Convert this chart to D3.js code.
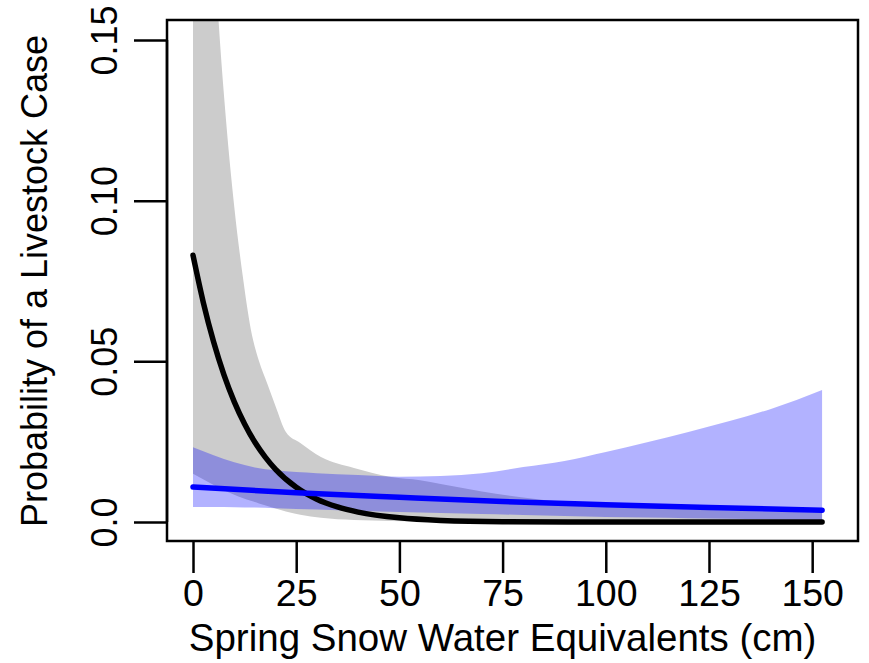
<!DOCTYPE html>
<html>
<head>
<meta charset="utf-8">
<script src="https://cdn.jsdelivr.net/npm/d3@7"></script>
<style>
  body { margin: 0; background: #fff; }
  svg text { font-family: "Liberation Sans", Arial, sans-serif; fill: #000; }
</style>
</head>
<body>
<div id="container"></div>
<script>
// livestock case model (black) with its 95% band
var blackX = [0, 2.5, 5, 7.5, 10, 12.5, 15, 17.5, 20, 25, 30, 35, 40, 50, 60, 75, 100, 125, 152.4];
var blackP = [0.083, 0.0683, 0.056, 0.0458, 0.0374, 0.0305, 0.0248, 0.0202, 0.0164, 0.0108, 0.0071, 0.0047, 0.0031, 0.0013, 0.0005, 0.0001, 0, 0, 0];

var greyX  = [0, 2, 4, 6, 8, 10, 12, 14, 16, 18, 20, 22.5, 26, 31, 39, 48, 55, 60, 70, 80, 90, 100, 110, 120, 130, 140, 152.4];
var greyHi = [0.32, 0.26, 0.21, 0.16, 0.125, 0.098, 0.077, 0.06, 0.05, 0.043, 0.036, 0.028, 0.0246, 0.0202, 0.0168, 0.014, 0.013, 0.0118, 0.0095, 0.0076, 0.0062, 0.0052, 0.0045, 0.004, 0.0036, 0.0033, 0.003];
var greyLo = [0.015, 0.0136, 0.0122, 0.0108, 0.0096, 0.0085, 0.0075, 0.0066, 0.0058, 0.005, 0.0042, 0.0033, 0.0023, 0.0013, 0.0006, 0.0003, 0.0002, 0.0001, 0, 0, 0, 0, 0, 0, 0, 0, 0];

// second model (blue) with its band
var blueX  = [0, 5, 10, 15, 20, 30, 40, 50, 60, 70, 80, 90, 100, 110, 120, 130, 140, 152.4];
var blueHi = [0.0233, 0.0208, 0.0186, 0.017, 0.0161, 0.0152, 0.0146, 0.0141, 0.0143, 0.0152, 0.0171, 0.019, 0.0218, 0.0248, 0.028, 0.0314, 0.0352, 0.0411];
var blueLo = [0.0047, 0.0047, 0.0046, 0.0045, 0.0043, 0.0039, 0.0035, 0.0031, 0.0028, 0.0025, 0.0022, 0.0019, 0.0016, 0.0014, 0.0012, 0.001, 0.0008, 0.0006];

var blueLineX = [0, 25, 50, 75, 100, 125, 152.4];
var blueLineP = [0.0109, 0.0091, 0.0077, 0.0064, 0.0054, 0.0045, 0.0037];

var xTicks = [0, 25, 50, 75, 100, 125, 150];
var yTicks = [0, 0.05, 0.1, 0.15];
var yTickLabels = ["0.0", "0.05", "0.10", "0.15"];

var width = 869,
    height = 663;
var margin = {top: 20, right: 11, bottom: 122, left: 167};

var svg = d3.select('#container').append('svg')
    .attr("width", width)
    .attr("height", height);

var x = d3.scaleLinear()
    .domain([-6.3, 161.1])
    .range([margin.left, width - margin.right]);
var y = d3.scaleLinear()
    .domain([-0.0059, 0.1562])
    .range([height - margin.bottom, margin.top]);

svg.append('clipPath').attr('id', 'plotclip')
  .append('rect')
    .attr('x', margin.left)
    .attr('y', margin.top)
    .attr('width', width - margin.left - margin.right)
    .attr('height', height - margin.top - margin.bottom);

var plot = svg.append('g').attr('clip-path', 'url(#plotclip)');

function band(xs, lo, hi) {
  return xs.map(function(v, i) { return {x: v, lo: lo[i], hi: hi[i]}; });
}
function pts(xs, ys) {
  return xs.map(function(v, i) { return {x: v, y: ys[i]}; });
}

var area = d3.area()
    .x(function(d) { return x(d.x); })
    .y0(function(d) { return y(d.lo); })
    .y1(function(d) { return y(d.hi); })
    .curve(d3.curveMonotoneX);

var line = d3.line()
    .x(function(d) { return x(d.x); })
    .y(function(d) { return y(d.y); })
    .curve(d3.curveMonotoneX);

plot.append('path')
    .datum(band(greyX, greyLo, greyHi))
    .attr('d', area)
    .attr('fill', '#cccccc');

plot.append('path')
    .datum(band(blueX, blueLo, blueHi))
    .attr('d', area)
    .attr('fill', 'rgba(0,0,255,0.3)');

plot.append('path')
    .datum(pts(blackX, blackP))
    .attr('d', line)
    .attr('fill', 'none')
    .attr('stroke', '#000')
    .attr('stroke-width', 5.5)
    .attr('stroke-linecap', 'round');

plot.append('path')
    .datum(pts(blueLineX, blueLineP))
    .attr('d', line)
    .attr('fill', 'none')
    .attr('stroke', '#0000ff')
    .attr('stroke-width', 5.5)
    .attr('stroke-linecap', 'round');

// axes, R style: ticks outside, line only between first and last tick
var xAxis = svg.append('g')
    .attr('transform', 'translate(0,' + (height - margin.bottom) + ')')
    .call(d3.axisBottom(x).tickValues(xTicks).tickSize(32).tickSizeOuter(0).tickPadding(6));
xAxis.select('.domain').remove();
xAxis.selectAll('line').attr('stroke', '#000').attr('stroke-width', 2.5);
xAxis.selectAll('text')
    .attr('font-size', 37.5)
    .attr('fill', '#000')
    .attr('dy', '0.71em');

var yAxis = svg.append('g')
    .attr('transform', 'translate(' + margin.left + ',0)')
    .call(d3.axisLeft(y).tickValues(yTicks).tickSize(33).tickSizeOuter(0)
      .tickFormat(function(d, i) { return yTickLabels[i]; }));
yAxis.select('.domain').remove();
yAxis.selectAll('line').attr('stroke', '#000').attr('stroke-width', 2.5);
yAxis.selectAll('text')
    .attr('font-size', 36)
    .attr('fill', '#000')
    .attr('text-anchor', 'middle')
    .attr('x', null)
    .attr('dy', null)
    .attr('transform', 'translate(-63,0) rotate(-90)')
    .attr('y', 13);

svg.append('line')
    .attr('x1', margin.left).attr('x2', margin.left)
    .attr('y1', y(0)).attr('y2', y(0.15))
    .attr('stroke', '#000').attr('stroke-width', 2.5);

// plot box
svg.append('rect')
    .attr('x', margin.left)
    .attr('y', margin.top)
    .attr('width', width - margin.left - margin.right)
    .attr('height', height - margin.top - margin.bottom)
    .attr('fill', 'none')
    .attr('stroke', '#000')
    .attr('stroke-width', 2.5);

svg.append('text')
    .attr('x', (x(0) + x(150)) / 2)
    .attr('y', 651)
    .attr('text-anchor', 'middle')
    .attr('font-size', 38.5)
    .text('Spring Snow Water Equivalents (cm)');

svg.append('text')
    .attr('transform', 'translate(47,' + ((y(0) + y(0.15)) / 2) + ') rotate(-90)')
    .attr('text-anchor', 'middle')
    .attr('font-size', 36)
    .text('Probability of a Livestock Case');
</script>
</body>
</html>
